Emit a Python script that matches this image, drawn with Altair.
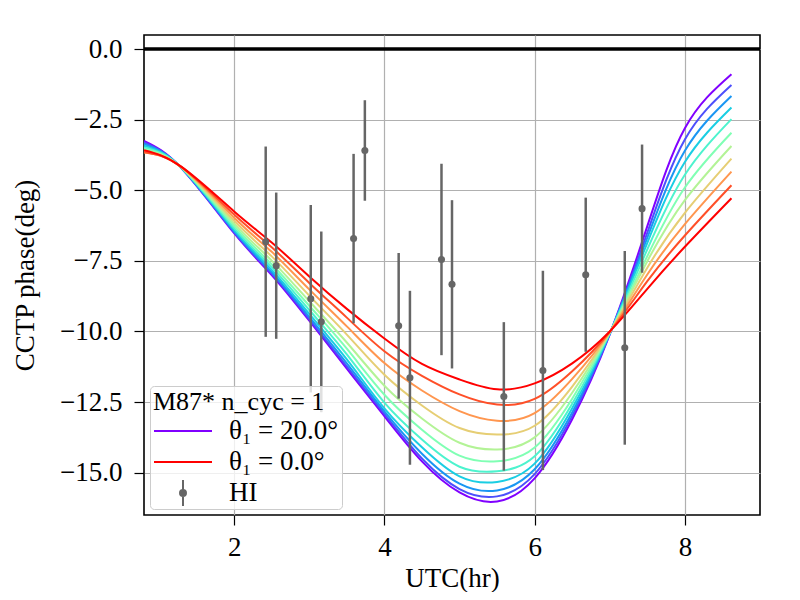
import altair as alt
import pandas as pd

FONT = "Liberation Serif"
FS = 27

# ---- model curves: CCTP phase (deg) vs UTC (hr), one list per theta_1 ----
X_UTC = [0.8, 1.3, 2.0, 2.5, 3.0, 3.5, 4.0, 4.5, 5.0, 5.5, 6.0, 6.5, 7.0, 7.5, 8.0, 8.62]
THETAS = [20, 18, 16, 14, 12, 10, 8, 6, 4, 2, 0]
COLORS = ["#8000ff", "#4d4ffc", "#1a96f3", "#1acee3", "#4df3ce", "#80ffb4",
          "#b3f396", "#e6ce74", "#ff964f", "#ff4f28", "#ff0000"]

PHASE_T20 = [-3.25, -4.22, -6.52, -8.00, -9.62, -11.32, -13.00, -14.60, -15.70, -16.02, -15.20, -13.11, -10.10, -6.27, -2.80, -0.89]
PHASE_T18 = [-3.30, -4.22, -6.49, -7.95, -9.56, -11.24, -12.92, -14.50, -15.58, -15.84, -15.05, -12.99, -10.09, -6.50, -3.20, -1.27]
PHASE_T16 = [-3.36, -4.21, -6.45, -7.90, -9.48, -11.13, -12.83, -14.33, -15.39, -15.63, -14.88, -12.87, -10.08, -6.68, -3.60, -1.66]
PHASE_T14 = [-3.42, -4.21, -6.40, -7.82, -9.38, -10.99, -12.72, -14.10, -15.13, -15.33, -14.68, -12.72, -10.07, -6.86, -4.00, -2.07]
PHASE_T12 = [-3.48, -4.20, -6.34, -7.72, -9.24, -10.81, -12.52, -13.83, -14.79, -14.95, -14.42, -12.56, -10.06, -7.09, -4.45, -2.48]
PHASE_T10 = [-3.54, -4.20, -6.26, -7.62, -9.09, -10.61, -12.24, -13.48, -14.40, -14.60, -14.11, -12.38, -10.05, -7.33, -4.90, -2.96]
PHASE_T8 = [-3.60, -4.19, -6.18, -7.49, -8.93, -10.39, -11.92, -13.08, -13.94, -14.18, -13.75, -12.17, -10.04, -7.51, -5.35, -3.43]
PHASE_T6 = [-3.64, -4.19, -6.08, -7.34, -8.73, -10.11, -11.53, -12.62, -13.42, -13.65, -13.34, -11.95, -10.03, -7.74, -5.80, -3.88]
PHASE_T4 = [-3.66, -4.18, -5.97, -7.18, -8.51, -9.82, -11.12, -12.09, -12.82, -13.16, -12.89, -11.68, -10.02, -7.98, -6.20, -4.34]
PHASE_T2 = [-3.64, -4.18, -5.86, -7.02, -8.28, -9.51, -10.70, -11.57, -12.23, -12.59, -12.39, -11.41, -10.01, -8.22, -6.60, -4.82]
PHASE_T0 = [-3.58, -4.17, -5.75, -6.85, -8.05, -9.20, -10.25, -11.15, -11.70, -12.05, -11.84, -11.13, -10.00, -8.49, -7.00, -5.28]
CURVES = [PHASE_T20, PHASE_T18, PHASE_T16, PHASE_T14, PHASE_T12, PHASE_T10,
          PHASE_T8, PHASE_T6, PHASE_T4, PHASE_T2, PHASE_T0]

# ---- HI measurements with error bars ----
HI_UTC = [2.42, 2.56, 3.02, 3.16, 3.59, 3.74, 4.19, 4.34, 4.76, 4.90, 5.59, 6.11, 6.68, 7.20, 7.43]
HI_PHASE = [-6.82, -7.67, -8.84, -9.66, -6.71, -3.59, -9.80, -11.64, -7.45, -8.33, -12.30, -11.38, -7.99, -10.58, -5.65]
HI_ERR = [3.37, 2.59, 3.32, 3.20, 3.00, 1.78, 2.58, 3.08, 3.39, 2.98, 2.63, 3.53, 2.73, 3.43, 2.27]

ZERO_LINE = [0.0]
X_TICKS = [2, 4, 6, 8]
Y_TICKS = [0.0, -2.5, -5.0, -7.5, -10.0, -12.5, -15.0]

LEGEND_LABELS = ["θ₁ = 20.0°", "θ₁ = 0.0°", "HI"]
LEGEND_COLORS = ["#8000ff", "#ff0000", "#666666"]
LINE_PATH = "M-1,0L1,0"
# errorbar glyph: vertical bar plus concentric rings that read as a filled dot
HI_PATH = ("M0,-0.46L0,0.46"
           "M0.103,0A0.103,0.103,0,1,1,-0.103,0A0.103,0.103,0,1,1,0.103,0Z"
           "M0.055,0A0.055,0.055,0,1,1,-0.055,0A0.055,0.055,0,1,1,0.055,0Z"
           "M0.015,0A0.015,0.015,0,1,1,-0.015,0A0.015,0.015,0,1,1,0.015,0Z")

rows = []
for theta, series in zip(THETAS, CURVES):
    for x, p in zip(X_UTC, series):
        rows.append({"theta": str(theta), "utc": x, "phase": p})
curves = pd.DataFrame(rows)

hi_df = pd.DataFrame({"utc": HI_UTC, "phase": HI_PHASE, "err": HI_ERR})
zero_df = pd.DataFrame({"phase": ZERO_LINE})
legend_df = pd.DataFrame({"label": LEGEND_LABELS,
                          "utc": [None] * 3, "phase": [None] * 3})

X_SCALE = alt.Scale(domain=[0.8, 9.0], nice=False, zero=False)
Y_SCALE = alt.Scale(domain=[-16.5, 0.5], nice=False, zero=False)

x_axis = alt.Axis(values=X_TICKS, format="d", title="UTC(hr)",
                  titleX=308, titleY=63, titleBaseline="middle",
                  titleAlign="center", labelPadding=9)
y_axis = alt.Axis(values=Y_TICKS, format=".1f", title="CCTP phase(deg)",
                  titleX=-119, titleY=240, titleAngle=270,
                  titleBaseline="middle", titleAlign="center",
                  labelPadding=12)

X_ENC = alt.X("utc:Q", scale=X_SCALE, axis=x_axis)
Y_ENC = alt.Y("phase:Q", scale=Y_SCALE, axis=y_axis)

lines = alt.Chart(curves).mark_line(
    strokeWidth=2, interpolate="natural", clip=True
).encode(
    x=X_ENC,
    y=Y_ENC,
    stroke=alt.Stroke("theta:N",
                      scale=alt.Scale(domain=[str(t) for t in THETAS], range=COLORS),
                      legend=None),
)

zero = alt.Chart(zero_df).mark_rule(color="black", strokeWidth=3.5).encode(y=Y_ENC)

base = alt.Chart(hi_df).transform_calculate(
    lo="datum.phase - datum.err", hi="datum.phase + datum.err"
)
bars = base.mark_rule(color="#666666", strokeWidth=2.5).encode(
    x=X_ENC,
    y=alt.Y("lo:Q", scale=Y_SCALE, axis=y_axis),
    y2="hi:Q",
)
dots = base.mark_circle(color="#666666", size=50, opacity=1).encode(x=X_ENC, y=Y_ENC)

legend_def = alt.Legend(
    title="M87* n_cyc = 1", orient="bottom-left", offset=6, padding=3,
    fillColor="rgba(255,255,255,0.8)", strokeColor="#cccccc", cornerRadius=4,
    symbolSize=3364, symbolStrokeWidth=2, clipHeight=26, rowPadding=4,
    labelFont=FONT, labelFontSize=FS, labelColor="black", labelOffset=16,
    titleFont=FONT, titleFontSize=FS - 1, titleFontWeight="normal",
    titleColor="black", titlePadding=3,
)
legend_layer = alt.Chart(legend_df).mark_point(
    filled=False, opacity=1, strokeWidth=2
).encode(
    x=X_ENC,
    y=Y_ENC,
    color=alt.Color("label:N",
                    scale=alt.Scale(domain=LEGEND_LABELS, range=LEGEND_COLORS),
                    legend=legend_def),
    shape=alt.Shape("label:N",
                    scale=alt.Scale(domain=LEGEND_LABELS,
                                    range=[LINE_PATH, LINE_PATH, HI_PATH]),
                    legend=legend_def),
)

chart = alt.layer(lines, zero, bars, dots, legend_layer).properties(
    width=616, height=480,
    autosize=alt.AutoSizeParams(type="none"),
    padding={"left": 136, "top": 27, "right": 24, "bottom": 77},
).configure_view(
    stroke="black", strokeWidth=1.6
).configure_axis(
    grid=True, gridColor="#b0b0b0", gridWidth=1.2, domain=False,
    tickColor="black", tickSize=10, tickWidth=1.2,
    labelFont=FONT, labelFontSize=FS, labelColor="black",
    titleFont=FONT, titleFontSize=FS, titleFontWeight="normal", titleColor="black",
)

chart.save("out.html", embed_options={"renderer": "svg", "actions": False})
